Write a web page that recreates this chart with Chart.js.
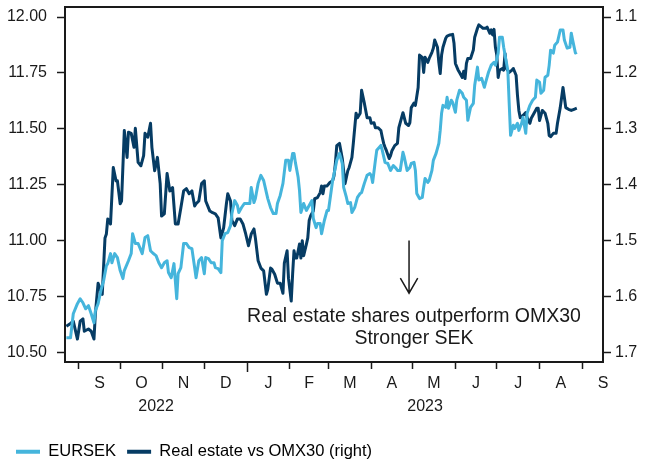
<!DOCTYPE html>
<html>
<head>
<meta charset="utf-8">
<script src="https://cdn.jsdelivr.net/npm/chart.js@4.4.1/dist/chart.umd.min.js"></script>
<style>
  html, body { margin: 0; padding: 0; background: #fff; overflow: hidden; }
  #wrap { position: relative; width: 648px; height: 470px; }
</style>
</head>
<body>
<div id="wrap"><canvas id="chart"></canvas></div>
<script>
// x values are days counted from 1 Sep 2022
const X_MIN = -10;
const X_MAX = 380;
const MONTH_STARTS = [0, 30, 61, 91, 122, 153, 181, 212, 242, 273, 303, 334, 365, 395];
const MONTH_LABELS = ['S', 'O', 'N', 'D', 'J', 'F', 'M', 'A', 'M', 'J', 'J', 'A', 'S'];
const YEAR_START = 122; // 1 Jan 2023
const YEAR_LABELS = ['2022', '2023'];
const LEFT_TICKS = [10.50, 10.75, 11.00, 11.25, 11.50, 11.75, 12.00];
const RIGHT_TICKS = [1.1, 1.2, 1.3, 1.4, 1.5, 1.6, 1.7];

const eursekDays = [
  -9, -6, -4, -1, 1, 3, 5, 7, 9, 11, 12, 14, 16, 18, 20, 21, 23, 24, 26, 28,
  30, 32, 33, 36, 38, 39, 41, 43, 46, 48, 50, 52, 54, 56, 58, 60, 62, 64, 65, 67,
  69, 71, 72, 74, 76, 78, 80, 82, 84, 85, 87, 89, 91, 92, 94, 96, 98, 99, 101, 103,
  104, 106, 108, 110, 111, 113, 115, 116, 118, 120, 122, 124, 125, 127, 128, 130, 132, 134, 136, 137,
  139, 141, 143, 144, 146, 148, 150, 152, 153, 155, 156, 157, 159, 160, 161, 163, 165, 167, 169, 170,
  172, 173, 175, 176, 178, 180, 181, 184, 186, 187, 189, 191, 192, 194, 195, 197, 198, 200, 202, 204,
  205, 207, 209, 211, 212, 213, 215, 216, 219, 220, 222, 224, 226, 228, 230, 231, 233, 235, 236, 238,
  240, 241, 243, 244, 245, 247, 249, 250, 251, 253, 254, 256, 257, 259, 261, 262, 263, 264, 266, 267,
  268, 270, 271, 273, 274, 276, 278, 279, 281, 282, 284, 286, 287, 289, 290, 292, 294, 295, 297, 299,
  301, 302, 304, 305, 307, 308, 309, 311, 312, 313, 315, 316, 318, 319, 321, 322, 324, 325, 327, 329,
  331, 332, 334, 335, 337, 338, 340, 341, 342, 344, 345, 347, 349, 351, 352, 354, 356, 357, 358, 360,
  361
];
const eursekValues = [
  10.565, 10.565, 10.673, 10.718, 10.740, 10.722, 10.695, 10.709, 10.673, 10.632, 10.686, 10.718, 10.776, 10.821, 10.888, 10.897, 10.942, 10.901, 10.942, 10.924,
  10.866, 10.830, 10.866, 10.910, 10.942, 11.031, 10.987, 10.987, 10.942, 11.014, 11.022, 10.955, 10.942, 10.933, 10.901, 10.879, 10.901, 10.910, 10.857, 10.834,
  10.897, 10.740, 10.852, 10.879, 10.987, 10.987, 10.969, 10.964, 10.879, 10.834, 10.910, 10.924, 10.852, 10.924, 10.919, 10.901, 10.901, 10.879, 10.875, 10.857,
  11.000, 11.031, 11.036, 11.067, 11.121, 11.179, 11.157, 11.126, 11.148, 11.166, 11.166, 11.166, 11.238, 11.170, 11.188, 11.256, 11.292, 11.269, 11.215, 11.188,
  11.148, 11.121, 11.121, 11.166, 11.202, 11.256, 11.359, 11.359, 11.314, 11.390, 11.390, 11.350, 11.283, 11.224, 11.126, 11.166, 11.135, 11.157, 11.179, 11.099,
  11.058, 11.076, 11.076, 11.031, 11.090, 11.135, 11.135, 11.269, 11.327, 11.359, 11.390, 11.345, 11.238, 11.193, 11.166, 11.170, 11.126, 11.148, 11.193, 11.211,
  11.215, 11.256, 11.292, 11.300, 11.292, 11.260, 11.359, 11.404, 11.426, 11.404, 11.350, 11.345, 11.314, 11.336, 11.323, 11.314, 11.314, 11.395, 11.372, 11.314,
  11.327, 11.345, 11.350, 11.314, 11.211, 11.188, 11.193, 11.238, 11.278, 11.260, 11.269, 11.314, 11.359, 11.390, 11.435, 11.493, 11.570, 11.605, 11.596, 11.641,
  11.592, 11.628, 11.619, 11.574, 11.628, 11.673, 11.659, 11.641, 11.628, 11.538, 11.596, 11.614, 11.695, 11.776, 11.718, 11.726, 11.686, 11.709, 11.753, 11.785,
  11.798, 11.785, 11.839, 11.910, 11.910, 11.865, 11.830, 11.762, 11.614, 11.471, 11.516, 11.502, 11.525, 11.493, 11.525, 11.552, 11.480, 11.570, 11.605, 11.628,
  11.641, 11.718, 11.709, 11.659, 11.673, 11.731, 11.740, 11.785, 11.852, 11.839, 11.874, 11.888, 11.942, 11.942, 11.897, 11.861, 11.865, 11.928, 11.897, 11.839,
  11.843
];

const realEstateDays = [
  -9, -6, -4, -1, 1, 3, 4, 7, 9, 11, 12, 14, 17, 19, 20, 21, 23, 25, 27, 28,
  30, 31, 33, 35, 36, 38, 40, 41, 43, 45, 47, 48, 50, 52, 53, 55, 57, 59, 60, 62,
  64, 66, 68, 70, 72, 74, 76, 78, 80, 82, 84, 85, 87, 89, 91, 92, 95, 97, 99, 101,
  103, 105, 107, 108, 110, 111, 113, 115, 117, 119, 121, 123, 125, 127, 128, 130, 132, 134, 136, 137,
  139, 140, 142, 144, 146, 148, 149, 151, 152, 154, 155, 156, 157, 158, 160, 161, 162, 163, 165, 166,
  167, 168, 170, 171, 173, 175, 176, 177, 178, 180, 182, 184, 185, 186, 187, 189, 191, 192, 193, 195,
  196, 198, 199, 201, 202, 204, 205, 207, 209, 211, 212, 214, 215, 217, 219, 220, 221, 222, 223, 225,
  226, 227, 229, 231, 232, 234, 235, 237, 239, 240, 241, 243, 244, 246, 247, 249, 250, 251, 253, 254,
  256, 257, 258, 260, 261, 262, 263, 264, 266, 267, 269, 271, 272, 273, 275, 276, 278, 279, 280, 281,
  282, 284, 286, 287, 289, 290, 292, 293, 295, 296, 298, 299, 300, 301, 302, 303, 304, 305, 307, 308,
  309, 310, 312, 314, 315, 317, 318, 319, 320, 322, 324, 325, 327, 328, 330, 332, 333, 334, 336, 338,
  340, 341, 342, 344, 346, 347, 349, 351, 352, 353, 355, 357, 359, 361
];
const realEstateValues = [
  1.653, 1.648, 1.644, 1.676, 1.644, 1.640, 1.662, 1.658, 1.662, 1.676, 1.631, 1.576, 1.596, 1.495, 1.488, 1.461, 1.470, 1.369, 1.393, 1.393,
  1.434, 1.429, 1.303, 1.351, 1.306, 1.308, 1.333, 1.299, 1.360, 1.366, 1.348, 1.308, 1.315, 1.290, 1.333, 1.375, 1.351, 1.398, 1.456, 1.452,
  1.380, 1.411, 1.405, 1.470, 1.470, 1.441, 1.411, 1.407, 1.416, 1.411, 1.438, 1.434, 1.429, 1.398, 1.393, 1.429, 1.447, 1.450, 1.452, 1.459,
  1.495, 1.477, 1.434, 1.416, 1.429, 1.464, 1.473, 1.461, 1.461, 1.470, 1.488, 1.509, 1.488, 1.479, 1.495, 1.536, 1.549, 1.554, 1.596, 1.587,
  1.549, 1.551, 1.560, 1.576, 1.576, 1.594, 1.540, 1.518, 1.567, 1.608, 1.560, 1.518, 1.531, 1.531, 1.506, 1.531, 1.500, 1.527, 1.506, 1.495,
  1.464, 1.456, 1.447, 1.425, 1.423, 1.414, 1.402, 1.416, 1.402, 1.402, 1.396, 1.393, 1.384, 1.362, 1.330, 1.326, 1.353, 1.375, 1.398, 1.375,
  1.369, 1.351, 1.326, 1.272, 1.280, 1.272, 1.231, 1.254, 1.280, 1.280, 1.290, 1.289, 1.298, 1.298, 1.303, 1.315, 1.326, 1.333, 1.339, 1.353,
  1.348, 1.339, 1.330, 1.326, 1.298, 1.280, 1.271, 1.290, 1.294, 1.289, 1.262, 1.254, 1.258, 1.226, 1.168, 1.172, 1.199, 1.172, 1.181, 1.174,
  1.163, 1.156, 1.141, 1.154, 1.181, 1.201, 1.168, 1.154, 1.138, 1.134, 1.132, 1.131, 1.147, 1.183, 1.195, 1.199, 1.208, 1.197, 1.210, 1.183,
  1.174, 1.174, 1.159, 1.136, 1.120, 1.114, 1.118, 1.120, 1.120, 1.118, 1.129, 1.123, 1.132, 1.122, 1.154, 1.168, 1.208, 1.195, 1.192, 1.195,
  1.165, 1.192, 1.199, 1.195, 1.192, 1.204, 1.240, 1.267, 1.280, 1.276, 1.271, 1.280, 1.290, 1.281, 1.272, 1.263, 1.263, 1.285, 1.267, 1.272,
  1.290, 1.312, 1.314, 1.308, 1.308, 1.290, 1.262, 1.226, 1.244, 1.262, 1.265, 1.267, 1.265, 1.263
];

// annotation, in data units
const ARROW_DAY = 239.4;
const ARROW_FROM = 11.00;
const ARROW_TO = 10.765;
const NOTE_DAY = 243;
const NOTE_LINES = ['Real estate shares outperform OMX30', 'Stronger SEK'];
const NOTE_VALUES = [10.662, 10.562];

const LIGHT = '#45b5dc';
const DARK = '#063c64';
const AXIS = '#1a1a1a';
const TEXT = '#1a1a1a';
const FONT = "'Liberation Sans', Arial, sans-serif";

Chart.defaults.font.family = FONT;
Chart.defaults.font.size = 16;
Chart.defaults.color = TEXT;

const toPoints = (days, vals) => days.map((d, i) => ({ x: d, y: vals[i] }));

function noPad(s) {
  s.paddingTop = 0; s.paddingBottom = 0; s.paddingLeft = 0; s.paddingRight = 0;
}

const annotation = {
  id: 'annotation',
  afterDatasetsDraw(chart) {
    const { ctx, scales: { x, y } } = chart;
    const ax = x.getPixelForValue(ARROW_DAY);
    const y0 = y.getPixelForValue(ARROW_FROM);
    const y1 = y.getPixelForValue(ARROW_TO);
    ctx.save();
    ctx.strokeStyle = TEXT;
    ctx.lineWidth = 1.5;
    ctx.beginPath();
    ctx.moveTo(ax, y0);
    ctx.lineTo(ax, y1);
    ctx.moveTo(ax - 8.7, y1 - 15);
    ctx.lineTo(ax, y1);
    ctx.lineTo(ax + 8.7, y1 - 15);
    ctx.stroke();
    ctx.fillStyle = TEXT;
    ctx.font = "19.5px " + FONT;
    ctx.textAlign = 'center';
    ctx.textBaseline = 'middle';
    NOTE_LINES.forEach((line, i) => {
      ctx.fillText(line, x.getPixelForValue(NOTE_DAY), y.getPixelForValue(NOTE_VALUES[i]));
    });
    ctx.restore();
  }
};

new Chart(document.getElementById('chart'), {
  type: 'line',
  data: {
    datasets: [
      {
        label: 'EURSEK',
        data: toPoints(eursekDays, eursekValues),
        borderColor: LIGHT,
        borderWidth: 3,
        pointRadius: 0,
        tension: 0,
        borderJoinStyle: 'round',
        xAxisID: 'x',
        yAxisID: 'y'
      },
      {
        label: 'Real estate vs OMX30 (right)',
        data: toPoints(realEstateDays, realEstateValues),
        borderColor: DARK,
        borderWidth: 3,
        pointRadius: 0,
        tension: 0,
        borderJoinStyle: 'round',
        xAxisID: 'x',
        yAxisID: 'y2'
      }
    ]
  },
  options: {
    responsive: true,
    maintainAspectRatio: false,
    animation: false,
    devicePixelRatio: 1,
    layout: { padding: { top: 7, left: 5, right: 0, bottom: 0 } },
    plugins: {
      tooltip: { enabled: false },
      legend: {
        position: 'bottom',
        align: 'start',
        labels: {
          boxWidth: 24,
          boxHeight: 4,
          padding: 11,
          color: TEXT,
          font: { size: 16.5 },
          generateLabels: (chart) => chart.data.datasets.map((ds, i) => ({
            text: ds.label,
            fillStyle: ds.borderColor,
            strokeStyle: ds.borderColor,
            lineWidth: 0,
            hidden: false,
            datasetIndex: i
          }))
        }
      }
    },
    scales: {
      x: {
        type: 'linear',
        position: 'bottom',
        min: X_MIN,
        max: X_MAX,
        afterBuildTicks: (s) => {
          s.ticks = MONTH_STARTS.filter(v => v >= X_MIN && v <= X_MAX).map(v => ({ value: v }));
        },
        ticks: { display: false },
        grid: {
          display: true,
          drawOnChartArea: false,
          drawTicks: true,
          tickLength: 10,
          tickWidth: 1.5,
          tickColor: AXIS,
          tickBorderDash: (c) => (c.tick && c.tick.value === YEAR_START) ? [] : [6, 20]
        },
        border: { color: AXIS, width: 2 },
        afterFit: (s) => { s.height = 10; noPad(s); }
      },
      xm: {
        type: 'linear',
        position: 'bottom',
        min: X_MIN,
        max: X_MAX,
        afterBuildTicks: (s) => {
          s.ticks = MONTH_LABELS.map((_, i) => ({ value: (MONTH_STARTS[i] + MONTH_STARTS[i + 1]) / 2 }));
        },
        ticks: {
          padding: 2,
          autoSkip: false,
          maxRotation: 0,
          color: TEXT,
          callback: (v, i) => MONTH_LABELS[i]
        },
        grid: { display: false, drawTicks: false },
        border: { display: false },
        afterFit: (s) => { s.height = 22; noPad(s); }
      },
      xy: {
        type: 'linear',
        position: 'bottom',
        min: X_MIN,
        max: X_MAX,
        afterBuildTicks: (s) => {
          s.ticks = [
            { value: (X_MIN + YEAR_START) / 2 },
            { value: (YEAR_START + X_MAX) / 2 }
          ];
        },
        ticks: {
          padding: 2.5,
          autoSkip: false,
          maxRotation: 0,
          color: TEXT,
          callback: (v, i) => YEAR_LABELS[i]
        },
        grid: { display: false, drawTicks: false },
        border: { display: false },
        afterFit: (s) => { s.height = 38.5; noPad(s); }
      },
      xt: {
        type: 'linear',
        position: 'top',
        min: X_MIN,
        max: X_MAX,
        ticks: { display: false },
        grid: { display: false, drawTicks: false },
        border: { color: AXIS, width: 2 },
        afterFit: (s) => { s.height = 0; noPad(s); }
      },
      y: {
        type: 'linear',
        position: 'left',
        min: 10.457,
        max: 12.045,
        afterBuildTicks: (s) => { s.ticks = LEFT_TICKS.map(v => ({ value: v })); },
        ticks: { padding: 10, color: TEXT, callback: (v) => v.toFixed(2) },
        grid: { drawOnChartArea: false, tickLength: 8, tickWidth: 1.5, tickColor: AXIS },
        border: { color: AXIS, width: 2 },
        afterFit: (s) => { s.width = 60; noPad(s); }
      },
      y2: {
        type: 'linear',
        position: 'right',
        reverse: true,
        min: 1.082,
        max: 1.717,
        afterBuildTicks: (s) => { s.ticks = RIGHT_TICKS.map(v => ({ value: v })); },
        ticks: { padding: 4, color: TEXT, callback: (v) => v.toFixed(1) },
        grid: { drawOnChartArea: false, tickLength: 8, tickWidth: 1.5, tickColor: AXIS },
        border: { color: AXIS, width: 2 },
        afterFit: (s) => { s.width = 45; noPad(s); }
      }
    }
  },
  plugins: [annotation]
});
</script>
</body>
</html>
